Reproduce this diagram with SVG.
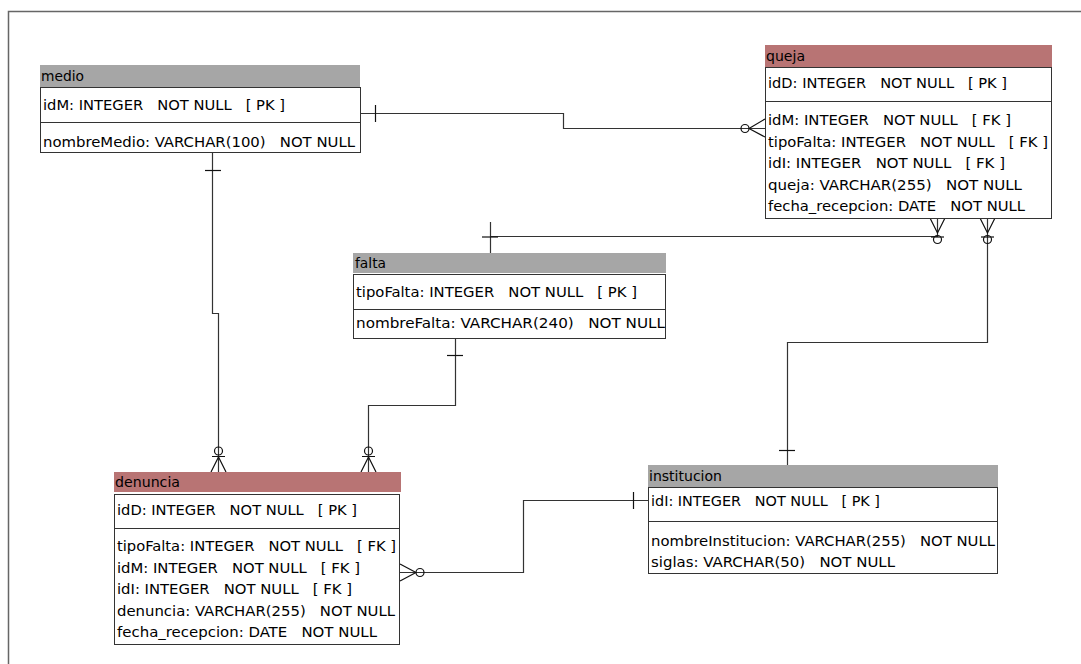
<svg xmlns="http://www.w3.org/2000/svg" width="1081" height="664" viewBox="0 0 1081 664">
<style>
text{font-family:"DejaVu Sans Condensed","DejaVu Sans",sans-serif;font-size:14px;fill:#000;white-space:pre}
.hg{fill:#a6a6a6}
.hr{fill:#b87474}
.box{fill:#fff;stroke:#333;stroke-width:1}
.sep{stroke:#333;stroke-width:1}
.c{fill:none;stroke:#333;stroke-width:1.2}
.m{fill:none;stroke:#111;stroke-width:1.2}
</style>
<rect width="1081" height="664" fill="#fff"/>
<path d="M8.5,664 V11.5 H1081" fill="none" stroke="#666" stroke-width="1.5"/>

<g id="connectors">
  <!-- medio - queja -->
  <path class="c" d="M360,113.5 H563.5 V128.5 H765"/>
  <path class="m" d="M375.5,105 V122"/>
  <circle class="m" cx="745" cy="128.5" r="4"/>
  <path class="m" d="M749,128.5 L765,119 M749,128.5 L765,137"/>
  <!-- medio - denuncia -->
  <path class="c" d="M212.5,152 V313.5 H218.5 V472"/>
  <path class="m" d="M205,170.5 H221"/>
  <circle class="m" cx="218.5" cy="451" r="4"/>
  <path class="m" d="M212,456.5 H225 M218.5,457 L211,472 M218.5,457 L226,472"/>
  <!-- falta - denuncia -->
  <path class="c" d="M455.5,338 V405.5 H368.5 V472"/>
  <path class="m" d="M447,355.5 H463"/>
  <circle class="m" cx="368.5" cy="451" r="4"/>
  <path class="m" d="M362,456.5 H375 M368.5,457 L361,472 M368.5,457 L376,472"/>
  <!-- falta - queja -->
  <path class="c" d="M490.5,222 V253 M490.5,236.5 H937.5 V218"/>
  <path class="m" d="M482,237 H498"/>
  <path class="m" d="M930,218 L937.5,233 L945,218"/>
  <circle class="m" cx="937.5" cy="239.5" r="4"/>
  <path class="m" d="M931,237 H944"/>
  <!-- queja - institucion -->
  <path class="c" d="M987.5,218 V342.5 H787.5 V465"/>
  <path class="m" d="M980,218 L987.5,233 L995,218"/>
  <circle class="m" cx="987.5" cy="239.5" r="4"/>
  <path class="m" d="M981,237 H994"/>
  <path class="m" d="M779,450.5 H795"/>
  <!-- institucion - denuncia -->
  <path class="c" d="M648,500.5 H523.5 V572.5 H400"/>
  <path class="m" d="M633.5,492 V509"/>
  <circle class="m" cx="420" cy="572.5" r="4"/>
  <path class="m" d="M416,572.5 L400,564 M416,572.5 L400,581"/>
</g>

<g id="medio">
  <rect class="hg" x="40" y="65" width="320" height="22"/>
  <text x="41" y="81" textLength="43" lengthAdjust="spacingAndGlyphs">medio</text>
  <rect class="box" x="40.5" y="87.5" width="320" height="65"/>
  <line class="sep" x1="40" y1="122.5" x2="360" y2="122.5"/>
  <text x="43" y="110" textLength="242" lengthAdjust="spacingAndGlyphs">idM: INTEGER   NOT NULL   [ PK ]</text>
  <text x="43" y="147" textLength="312" lengthAdjust="spacingAndGlyphs">nombreMedio: VARCHAR(100)   NOT NULL</text>
</g>

<g id="queja">
  <rect class="hr" x="765" y="45" width="287" height="22"/>
  <text x="766" y="61" textLength="39" lengthAdjust="spacingAndGlyphs">queja</text>
  <rect class="box" x="765.5" y="67.5" width="286" height="151"/>
  <line class="sep" x1="765" y1="101.5" x2="1051" y2="101.5"/>
  <text x="768" y="88" textLength="239" lengthAdjust="spacingAndGlyphs">idD: INTEGER   NOT NULL   [ PK ]</text>
  <text x="768" y="125" textLength="243" lengthAdjust="spacingAndGlyphs">idM: INTEGER   NOT NULL   [ FK ]</text>
  <text x="768" y="146.5" textLength="280" lengthAdjust="spacingAndGlyphs">tipoFalta: INTEGER   NOT NULL   [ FK ]</text>
  <text x="768" y="168" textLength="237" lengthAdjust="spacingAndGlyphs">idI: INTEGER   NOT NULL   [ FK ]</text>
  <text x="768" y="189.5" textLength="254" lengthAdjust="spacingAndGlyphs">queja: VARCHAR(255)   NOT NULL</text>
  <text x="768" y="211" textLength="257" lengthAdjust="spacingAndGlyphs">fecha_recepcion: DATE   NOT NULL</text>
</g>

<g id="falta">
  <rect class="hg" x="353" y="253" width="313" height="20"/>
  <text x="355" y="268" textLength="31" lengthAdjust="spacingAndGlyphs">falta</text>
  <rect class="box" x="353.5" y="274.5" width="312" height="64"/>
  <line class="sep" x1="353" y1="309.5" x2="665" y2="309.5"/>
  <text x="356" y="297" textLength="281" lengthAdjust="spacingAndGlyphs">tipoFalta: INTEGER   NOT NULL   [ PK ]</text>
  <text x="356" y="328" textLength="309" lengthAdjust="spacingAndGlyphs">nombreFalta: VARCHAR(240)   NOT NULL</text>
</g>

<g id="denuncia">
  <rect class="hr" x="114" y="472" width="287" height="20"/>
  <text x="115" y="487" textLength="65" lengthAdjust="spacingAndGlyphs">denuncia</text>
  <rect class="box" x="114.5" y="494.5" width="285" height="150"/>
  <line class="sep" x1="114" y1="528.5" x2="400" y2="528.5"/>
  <text x="117" y="515" textLength="240" lengthAdjust="spacingAndGlyphs">idD: INTEGER   NOT NULL   [ PK ]</text>
  <text x="117" y="551" textLength="279" lengthAdjust="spacingAndGlyphs">tipoFalta: INTEGER   NOT NULL   [ FK ]</text>
  <text x="117" y="572.5" textLength="243" lengthAdjust="spacingAndGlyphs">idM: INTEGER   NOT NULL   [ FK ]</text>
  <text x="117" y="594" textLength="235" lengthAdjust="spacingAndGlyphs">idI: INTEGER   NOT NULL   [ FK ]</text>
  <text x="117" y="615.5" textLength="278" lengthAdjust="spacingAndGlyphs">denuncia: VARCHAR(255)   NOT NULL</text>
  <text x="117" y="637" textLength="260" lengthAdjust="spacingAndGlyphs">fecha_recepcion: DATE   NOT NULL</text>
</g>

<g id="institucion">
  <rect class="hg" x="648" y="465" width="350" height="22"/>
  <text x="649" y="481" textLength="73" lengthAdjust="spacingAndGlyphs">institucion</text>
  <rect class="box" x="648.5" y="487.5" width="349" height="86"/>
  <line class="sep" x1="648" y1="521.5" x2="997" y2="521.5"/>
  <text x="651" y="506" textLength="229" lengthAdjust="spacingAndGlyphs">idI: INTEGER   NOT NULL   [ PK ]</text>
  <text x="651" y="546" textLength="344" lengthAdjust="spacingAndGlyphs">nombreInstitucion: VARCHAR(255)   NOT NULL</text>
  <text x="651" y="567" textLength="244" lengthAdjust="spacingAndGlyphs">siglas: VARCHAR(50)   NOT NULL</text>
</g>
</svg>
